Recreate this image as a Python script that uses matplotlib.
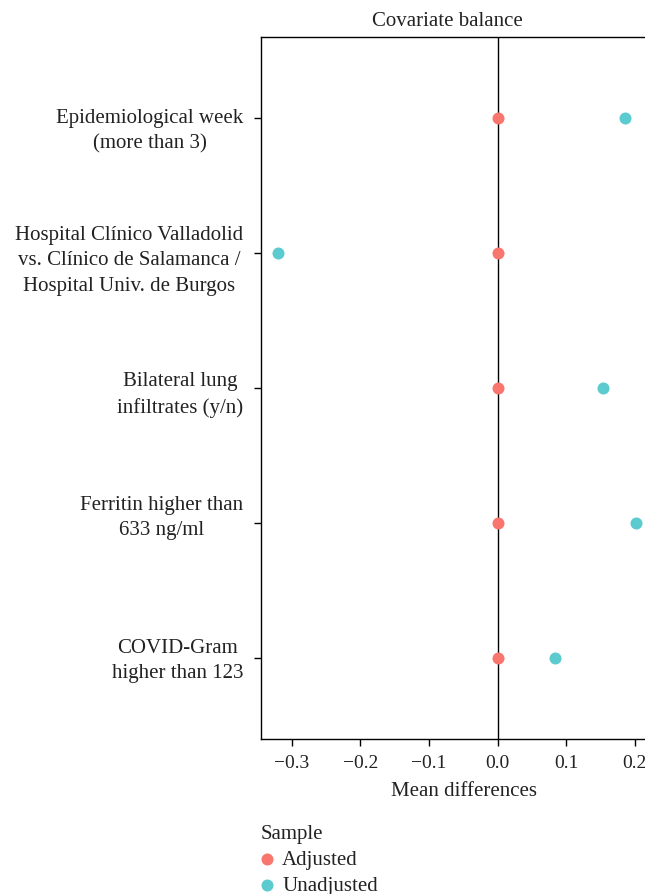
import matplotlib.pyplot as plt

plt.rcParams['font.family'] = ['Liberation Serif', 'DejaVu Serif']

covariates = ["COVID-Gram\nhigher than 123",
              "Ferritin higher than\n633 ng/ml",
              "Bilateral lung\ninfiltrates (y/n)",
              "Hospital Clínico Valladolid\nvs. Clínico de Salamanca /\nHospital Univ. de Burgos",
              "Epidemiological week\n(more than 3)"]
adjusted = [0.0, 0.001, 0.0, 0.0, 0.0]
unadjusted = [0.084, 0.202, 0.154, -0.320, 0.186]
xticks = [-0.3, -0.2, -0.1, 0.0, 0.1, 0.2]
# small vertical shift of each label block (pixels, down is positive)
label_shift = [2, -6, 6, 7, 12]

col_adj = "#F8766D"
col_unadj = "#5BCBD0"

fig = plt.figure(figsize=(6.45, 8.95), dpi=100)
ax = fig.add_axes([260.7 / 645, 1 - 740 / 895, 1 - 260.7 / 645, (740 - 38) / 895])

ypos = list(range(1, len(covariates) + 1))
ax.axvline(0, color="black", lw=1, zorder=1)
ax.scatter(adjusted, ypos, s=75, color=col_adj, zorder=3, linewidths=0, label="Adjusted")
ax.scatter(unadjusted, ypos, s=75, color=col_unadj, zorder=3, linewidths=0, label="Unadjusted")

ax.set_xlim(-0.345, 0.2147)
ax.set_ylim(0.4, 5.6)
ax.set_yticks(ypos)
ax.set_yticklabels([])
for y, lab, dy in zip(ypos, covariates, label_shift):
    ax.annotate(lab, xy=(0, y), xycoords=("axes fraction", "data"),
                xytext=(-12.5, -dy * 0.72), textcoords="offset points",
                ha="right", va="center", multialignment="center",
                fontsize=15, linespacing=1.45, color="#222222")
ax.set_xticks(xticks)
ax.set_xticklabels([f"{t:.1f}".replace("-", "\u2212") for t in xticks], fontsize=14, color="#222222")
ax.tick_params(axis="both", length=5, width=1, color="black")
ax.tick_params(axis="x", pad=6)
for s in ["left", "top", "bottom"]:
    ax.spines[s].set_linewidth(1)
ax.spines["right"].set_visible(False)

fig.text(447 / 645, 1 - 22 / 895, "Covariate balance", ha="center", va="center", fontsize=15, color="#222222")
fig.text(464 / 645, 1 - 792 / 895, "Mean differences", ha="center", va="center", fontsize=15, color="#222222")

leg = fig.legend(loc="upper left", bbox_to_anchor=(252 / 645, 1 - 817 / 895), frameon=False,
                 title="Sample", fontsize=15, title_fontsize=15, handletextpad=0.45,
                 labelspacing=0.3, alignment="left", borderaxespad=0, handlelength=0.6)
for t in leg.get_texts():
    t.set_color("#222222")
leg.get_title().set_color("#222222")

fig.savefig("out.png", dpi=100)
